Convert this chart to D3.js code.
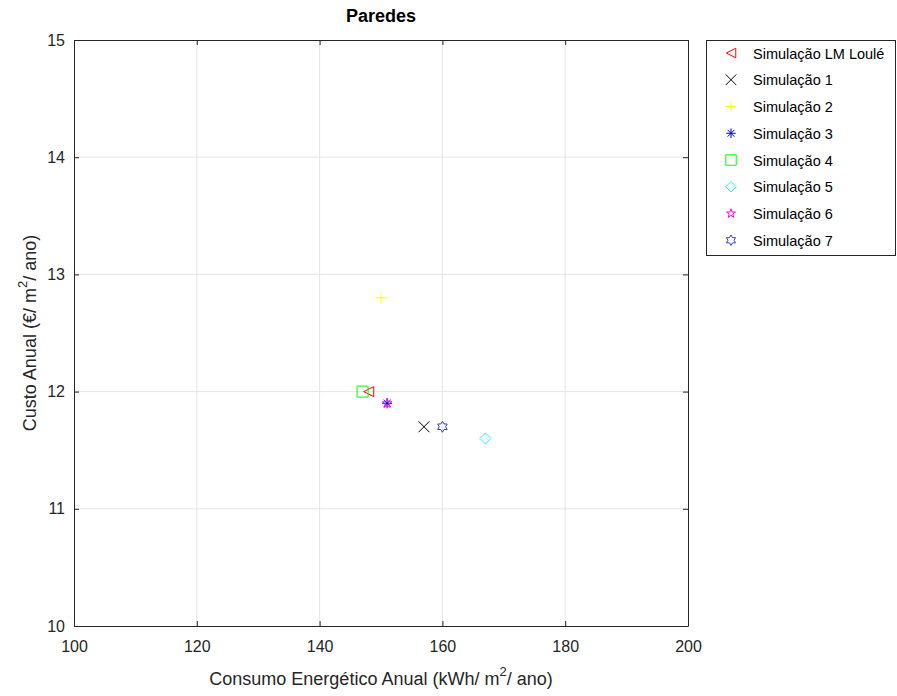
<!DOCTYPE html>
<html><head><meta charset="utf-8">
<script src="https://cdn.jsdelivr.net/npm/d3@7"></script>
<style>body{margin:0;background:#fff;}svg{font-family:"Liberation Sans",Arial,sans-serif;}</style>
</head><body><svg id="c" width="897" height="696"></svg>
<script>
const seriesNames = ["Simulação LM Loulé","Simulação 1","Simulação 2","Simulação 3","Simulação 4","Simulação 5","Simulação 6","Simulação 7"];
const consumo = [148, 157, 150, 151, 147, 167, 151, 160];
const custo = [12.0, 11.7, 12.8, 11.9, 12.0, 11.6, 11.9, 11.7];
const colors = ["#ff0000","#000000","#ffff00","#0000ff","#00ff00","#00ffff","#ff00ff","#3b3bd6"];
const markers = ["triangleLeft","x","plus","asterisk","square","diamond","pentagram","hexagram"];
const xTicks = [100,120,140,160,180,200];
const yTicks = [10,11,12,13,14,15];

const svg = d3.select("#c");
const L=74,R=688,T=40,B=626;
const x = d3.scaleLinear().domain([100,200]).range([L,R]);
const y = d3.scaleLinear().domain([10,15]).range([B,T]);

function markerPath(type,s){
  const p=d3.path();
  if(type==="triangleLeft"){p.moveTo(-s,0);p.lineTo(s,-s);p.lineTo(s,s);p.closePath();}
  else if(type==="x"){p.moveTo(-s,-s);p.lineTo(s,s);p.moveTo(-s,s);p.lineTo(s,-s);}
  else if(type==="plus"){p.moveTo(-s,0);p.lineTo(s,0);p.moveTo(0,-s);p.lineTo(0,s);}
  else if(type==="asterisk"){p.moveTo(-s,0);p.lineTo(s,0);p.moveTo(0,-s);p.lineTo(0,s);const d=s*0.71;p.moveTo(-d,-d);p.lineTo(d,d);p.moveTo(-d,d);p.lineTo(d,-d);}
  else if(type==="square"){p.rect(-s,-s,2*s,2*s);}
  else if(type==="diamond"){p.moveTo(0,-s);p.lineTo(s,0);p.lineTo(0,s);p.lineTo(-s,0);p.closePath();}
  else if(type==="pentagram"){for(let i=0;i<10;i++){const r=i%2?s*0.4:s;const a=-Math.PI/2+i*Math.PI/5;const px=r*Math.cos(a),py=r*Math.sin(a);i?p.lineTo(px,py):p.moveTo(px,py);}p.closePath();}
  else if(type==="hexagram"){for(let i=0;i<12;i++){const r=i%2?s*0.58:s;const a=-Math.PI/2+i*Math.PI/6;const px=r*Math.cos(a),py=r*Math.sin(a);i?p.lineTo(px,py):p.moveTo(px,py);}p.closePath();}
  return p.toString();
}
const sizes={triangleLeft:5,x:5.5,plus:5.5,asterisk:5,square:5.5,diamond:5.5,pentagram:5,hexagram:5.5};

// grid
svg.append("g").selectAll("line").data(xTicks.slice(1,-1)).join("line")
  .attr("x1",d=>x(d)).attr("x2",d=>x(d)).attr("y1",T).attr("y2",B).attr("stroke","#e5e5e5");
svg.append("g").selectAll("line").data(yTicks.slice(1,-1)).join("line")
  .attr("y1",d=>y(d)).attr("y2",d=>y(d)).attr("x1",L).attr("x2",R).attr("stroke","#e5e5e5");

// axes
const ax=svg.append("g").attr("transform",`translate(0,${B})`).call(d3.axisBottom(x).tickValues(xTicks).tickFormat(d3.format("d")).tickSizeInner(-5).tickSizeOuter(0).tickPadding(15));
const ay=svg.append("g").attr("transform",`translate(${L},0)`).call(d3.axisLeft(y).tickValues(yTicks).tickFormat(d3.format("d")).tickSizeInner(-5).tickSizeOuter(0).tickPadding(9));
const at=svg.append("g").attr("transform",`translate(0,${T})`).call(d3.axisTop(x).tickValues(xTicks).tickSizeInner(-5).tickSizeOuter(0).tickFormat(""));
const ar=svg.append("g").attr("transform",`translate(${R},0)`).call(d3.axisRight(y).tickValues(yTicks).tickSizeInner(-5).tickSizeOuter(0).tickFormat(""));
[ax,ay,at,ar].forEach(g=>{g.attr("font-size",16).attr("font-family","Liberation Sans, Arial, sans-serif");g.select(".domain").attr("stroke","#262626");g.selectAll(".tick line").attr("stroke","#262626");g.selectAll("text").attr("fill","#262626");});

// title
svg.append("text").attr("x",(L+R)/2).attr("y",22).attr("text-anchor","middle").attr("font-size",18).attr("font-weight","bold").attr("fill","#000").text("Paredes");

// x label
const xl=svg.append("text").attr("x",(L+R)/2).attr("y",685).attr("text-anchor","middle").attr("font-size",18).attr("fill","#262626");
xl.append("tspan").text("Consumo Energético Anual (kWh/ m");
xl.append("tspan").attr("dy",-9).attr("font-size",13).text("2");
xl.append("tspan").attr("dy",9).text("/ ano)");

// y label
const yl=svg.append("text").attr("transform",`translate(36,${(T+B)/2}) rotate(-90)`).attr("text-anchor","middle").attr("font-size",18).attr("fill","#262626");
yl.append("tspan").text("Custo Anual (€/ m");
yl.append("tspan").attr("dy",-9).attr("font-size",13).text("2");
yl.append("tspan").attr("dy",9).text("/ ano)");

// points
svg.append("g").selectAll("path").data(consumo.map((c,i)=>({c,v:custo[i],i}))).join("path")
  .attr("transform",d=>`translate(${x(d.c)},${y(d.v)})`)
  .attr("d",d=>markerPath(markers[d.i],sizes[markers[d.i]]))
  .attr("fill","none").attr("stroke",d=>colors[d.i]).attr("stroke-width",1);

// legend
const lg=svg.append("g");
lg.append("rect").attr("x",706.5).attr("y",40.5).attr("width",189).attr("height",215).attr("fill","#fff").attr("stroke","#262626");
const rows=lg.selectAll("g.r").data(seriesNames).join("g").attr("class","r").attr("transform",(d,i)=>`translate(0,${53+i*26.75})`);
rows.append("path").attr("transform","translate(731,0)").attr("d",(d,i)=>markerPath(markers[i],sizes[markers[i]]*0.95)).attr("fill","none").attr("stroke",(d,i)=>colors[i]);
rows.append("text").attr("x",753).attr("y",5.5).attr("font-size",14.5).attr("fill","#000").text(d=>d);
</script></body></html>
